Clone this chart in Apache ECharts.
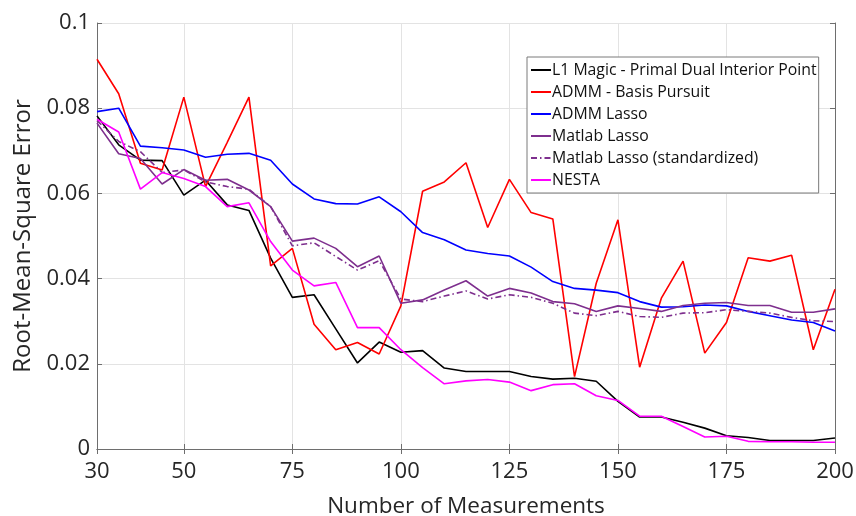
<!DOCTYPE html>
<html>
<head>
<meta charset="utf-8">
<script src="https://cdn.jsdelivr.net/npm/echarts@6/dist/echarts.min.js"></script>
<style>
html,body{margin:0;padding:0;background:#fff;}
#chart{width:856px;height:516px;}
</style>
</head>
<body>
<div id="chart"></div>
<script>
// Number of measurements (x) and RMSE per solver
const measurements = [30,35,40,45,50,55,60,65,70,75,80,85,90,95,100,105,110,115,120,125,130,135,140,145,150,155,160,165,170,175,180,185,190,195,200];
const xTicks = [30,50,75,100,125,150,175,200];

const l1Magic = [0.0782,0.0714,0.0678,0.0677,0.0596,0.0631,0.0573,0.0560,0.0448,0.0356,0.0362,0.0282,0.0202,0.0251,0.0227,0.0231,0.0190,0.0182,0.0182,0.0182,0.0170,0.0164,0.0166,0.0159,0.0112,0.0075,0.0075,0.0063,0.0049,0.0031,0.0027,0.0020,0.0020,0.0020,0.0026];
const admmBP = [0.0915,0.0834,0.0671,0.0655,0.0826,0.0616,0.0720,0.0826,0.0430,0.0471,0.0293,0.0233,0.0250,0.0223,0.0336,0.0605,0.0627,0.0672,0.0520,0.0633,0.0555,0.0540,0.0170,0.0389,0.0538,0.0192,0.0354,0.0441,0.0225,0.0297,0.0449,0.0441,0.0455,0.0233,0.0375];
const admmLasso = [0.0792,0.0800,0.0711,0.0707,0.0702,0.0685,0.0692,0.0694,0.0678,0.0622,0.0587,0.0576,0.0575,0.0592,0.0557,0.0508,0.0491,0.0467,0.0459,0.0453,0.0427,0.0393,0.0377,0.0373,0.0367,0.0346,0.0333,0.0334,0.0338,0.0336,0.0323,0.0313,0.0303,0.0297,0.0277];
const matlabLasso = [0.0765,0.0693,0.0682,0.0622,0.0656,0.0631,0.0633,0.0608,0.0569,0.0488,0.0495,0.0471,0.0428,0.0453,0.0342,0.0350,0.0373,0.0395,0.0359,0.0377,0.0366,0.0346,0.0341,0.0323,0.0336,0.0330,0.0323,0.0337,0.0342,0.0344,0.0337,0.0337,0.0321,0.0321,0.0329];
const matlabLassoStd = [0.0771,0.0722,0.0698,0.0649,0.0655,0.0627,0.0616,0.0610,0.0569,0.0477,0.0484,0.0452,0.0420,0.0442,0.0352,0.0346,0.0359,0.0371,0.0352,0.0362,0.0356,0.0342,0.0319,0.0313,0.0323,0.0311,0.0309,0.0319,0.0320,0.0327,0.0323,0.0319,0.0309,0.0301,0.0299];
const nesta = [0.0774,0.0744,0.0610,0.0649,0.0635,0.0616,0.0569,0.0578,0.0487,0.0420,0.0383,0.0391,0.0285,0.0285,0.0233,0.0191,0.0153,0.0160,0.0163,0.0157,0.0137,0.0151,0.0153,0.0125,0.0114,0.0077,0.0077,0.0053,0.0028,0.0030,0.0018,0.0017,0.0017,0.0016,0.0016];

const FONT = '"Open Sans", Lato, "DejaVu Sans", sans-serif';
const AXIS_COLOR = '#6e6e6e';
const TEXT_COLOR = '#262626';

function pairs(ys) { return measurements.map((x, i) => [x, ys[i]]); }

function line(name, ys, color, dash) {
  return {
    name: name,
    type: 'line',
    data: pairs(ys),
    showSymbol: false,
    symbol: 'none',
    animation: false,
    lineStyle: { color: color, width: 1.6, type: dash || 'solid' },
    itemStyle: { color: color }
  };
}

const chart = echarts.init(document.getElementById('chart'), null, { renderer: 'canvas' });

const boxAxis = {
  axisLine: { show: true, lineStyle: { color: AXIS_COLOR, width: 1 } },
  axisTick: { show: true, inside: true, length: 5, lineStyle: { color: AXIS_COLOR } },
  axisLabel: { show: false },
  splitLine: { show: false }
};

chart.setOption({
  backgroundColor: '#fff',
  textStyle: { fontFamily: FONT },
  grid: { left: 97, right: 21, top: 23, bottom: 67, containLabel: false, outerBoundsMode: 'none' },
  legend: {
    orient: 'vertical',
    left: 527,
    top: 57,
    padding: [5, 2, 5, 3],
    itemGap: 6,
    itemWidth: 20,
    itemHeight: 14,
    backgroundColor: '#fff',
    borderColor: '#7a7a7a',
    borderWidth: 1,
    borderRadius: 0,
    itemStyle: { opacity: 0 },
    textStyle: { fontFamily: FONT, fontSize: 15.8, lineHeight: 16, color: '#111', padding: [0, 0, 0, -4] }
  },
  xAxis: [
    {
      type: 'value', min: 30, max: 200, position: 'bottom',
      name: 'Number of Measurements', nameLocation: 'middle', nameGap: 46,
      nameTextStyle: { fontFamily: FONT, fontSize: 22.5, color: TEXT_COLOR },
      axisLine: { show: true, lineStyle: { color: AXIS_COLOR, width: 1 } },
      axisTick: { show: true, inside: true, length: 5, customValues: xTicks, lineStyle: { color: AXIS_COLOR } },
      axisLabel: { show: true, customValues: xTicks, fontFamily: FONT, fontSize: 22, color: TEXT_COLOR, margin: 12 },
      splitLine: { show: true, lineStyle: { color: '#e3e3e3', width: 1 } }
    },
    Object.assign({ type: 'value', min: 30, max: 200, position: 'top' }, boxAxis, {
      axisTick: { show: true, inside: true, length: 5, customValues: xTicks, lineStyle: { color: AXIS_COLOR } }
    })
  ],
  yAxis: [
    {
      type: 'value', min: 0, max: 0.1, interval: 0.02, position: 'left',
      name: 'Root-Mean-Square Error', nameLocation: 'middle', nameGap: 57,
      nameTextStyle: { fontFamily: FONT, fontSize: 24, color: TEXT_COLOR },
      axisLine: { show: true, lineStyle: { color: AXIS_COLOR, width: 1 } },
      axisTick: { show: true, inside: true, length: 5, lineStyle: { color: AXIS_COLOR } },
      axisLabel: {
        fontFamily: FONT, fontSize: 22, color: TEXT_COLOR, margin: 7,
        formatter: v => (v === 0 ? '0' : String(+v.toFixed(2)))
      },
      splitLine: { show: true, lineStyle: { color: '#e3e3e3', width: 1 } }
    },
    Object.assign({ type: 'value', min: 0, max: 0.1, interval: 0.02, position: 'right' }, boxAxis)
  ],
  series: [
    line('L1 Magic - Primal Dual Interior Point', l1Magic, '#000000'),
    line('ADMM - Basis Pursuit', admmBP, '#ff0000'),
    line('ADMM Lasso', admmLasso, '#0000ff'),
    line('Matlab Lasso', matlabLasso, '#7e2f8e'),
    line('Matlab Lasso (standardized)', matlabLassoStd, '#7e2f8e', [6, 3, 1.5, 3]),
    line('NESTA', nesta, '#ff00ff')
  ]
});
</script>
</body>
</html>
